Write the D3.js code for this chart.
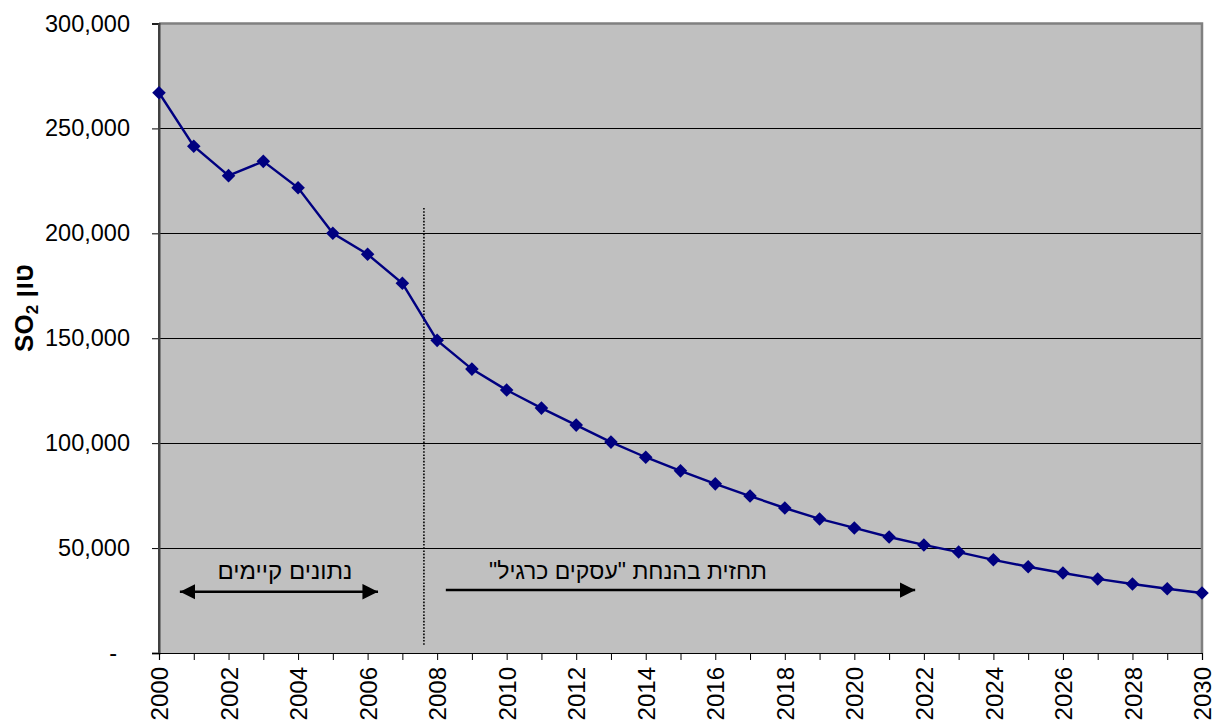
<!DOCTYPE html>
<html>
<head>
<meta charset="utf-8">
<script src="https://cdn.jsdelivr.net/npm/d3@7"></script>
<style>
  body { margin: 0; background: #fff; }
  svg { display: block; }
  text { font-family: "Liberation Sans", Arial, sans-serif; }
</style>
</head>
<body>
<svg id="chart" width="1217" height="724"></svg>
<script>
// ---- data ----
const years = [2000,2001,2002,2003,2004,2005,2006,2007,2008,2009,2010,2011,2012,2013,2014,2015,
  2016,2017,2018,2019,2020,2021,2022,2023,2024,2025,2026,2027,2028,2029,2030];
const so2Tons = [267000,241500,227500,234300,221700,200000,190000,176200,149000,135300,125300,116700,
  108600,100500,93300,86800,80600,74800,69100,63900,59600,55300,51500,48100,44400,41100,38100,35300,
  32900,30600,28600];
const yTicks = [0,50000,100000,150000,200000,250000,300000];
const xLabelYears = [2000,2002,2004,2006,2008,2010,2012,2014,2016,2018,2020,2022,2024,2026,2028,2030];
const yTitleMain = "SO";
const yTitleSub = "2";
const yTitleHeb = " טון";
const existingLabel = "נתונים קיימים";
const forecastLabel = "תחזית בהנחת \"עסקים כרגיל\"";
const existingRange = [2000.6, 2006.3];
const forecastRange = [2008.25, 2021.75];
const dividerYear = 2007.62;

// ---- layout ----
const svg = d3.select("#chart");
const L = 159, R = 1202, T = 23.5, B = 653;
const x = d3.scaleLinear().domain([2000, 2030]).range([L, R]);
const y = d3.scaleLinear().domain([0, 300000]).range([B, T]);

const defs = svg.append("defs");
function arrowMarker(id, orient) {
  defs.append("marker").attr("id", id)
    .attr("viewBox", "0 0 10 10").attr("refX", 10).attr("refY", 5)
    .attr("markerWidth", 6).attr("markerHeight", 6).attr("markerUnits", "strokeWidth")
    .attr("orient", orient)
    .append("path").attr("d", "M0,0 L10,5 L0,10 Z").attr("fill", "#000");
}
arrowMarker("arrEnd", "auto");
arrowMarker("arrStart", "auto-start-reverse");

// plot background
svg.append("rect").attr("x", L).attr("y", T).attr("width", R - L).attr("height", B - T)
  .attr("fill", "#C0C0C0");

// gridlines
svg.append("g").selectAll("line").data(yTicks.filter(d => d > 0 && d < 300000)).join("line")
  .attr("x1", L).attr("x2", R).attr("y1", d => Math.round(y(d)) + 0.5).attr("y2", d => Math.round(y(d)) + 0.5)
  .attr("stroke", "#000").attr("stroke-width", 1);

// top & right border
svg.append("path")
  .attr("d", `M${L},${T} H${R} V${B}`)
  .attr("fill", "none").attr("stroke", "#808080").attr("stroke-width", 2.5);

// y axis
const yAxis = d3.axisLeft(y).tickValues(yTicks).tickSize(7).tickPadding(22)
  .tickFormat(d => d === 0 ? "-" : d3.format(",")(d));
const gy = svg.append("g").attr("transform", `translate(${L},0)`).call(yAxis);
gy.select(".domain").attr("stroke", "#404040").attr("stroke-width", 2);
gy.selectAll(".tick line").attr("stroke", "#000");
gy.selectAll(".tick text").attr("font-size", 23.5).attr("fill", "#000")
  .attr("font-family", "'Liberation Sans', Arial, sans-serif")
  .attr("dx", d => d === 0 ? -13 : 0);

// x axis
const xAxis = d3.axisBottom(x).tickValues(years).tickSize(7).tickPadding(8)
  .tickFormat(d => xLabelYears.includes(d) ? String(d) : "");
const gx = svg.append("g").attr("transform", `translate(0,${B})`).call(xAxis);
gx.select(".domain").attr("stroke", "#000").attr("stroke-width", 1.2);
gx.selectAll(".tick line").attr("stroke", "#000");
gx.selectAll(".tick text").attr("font-size", 24).attr("fill", "#000")
  .attr("font-family", "'Liberation Sans', Arial, sans-serif")
  .attr("transform", "rotate(-90)")
  .attr("text-anchor", "end").attr("x", -14).attr("y", 0).attr("dy", "0.36em");

// redraw left axis line over background edge
svg.append("line").attr("x1", L).attr("x2", L).attr("y1", T).attr("y2", B)
  .attr("stroke", "#404040").attr("stroke-width", 2);

// divider dotted line
svg.append("line").attr("x1", x(dividerYear)).attr("x2", x(dividerYear))
  .attr("y1", 208).attr("y2", 645)
  .attr("stroke", "#000").attr("stroke-width", 1.6).attr("stroke-dasharray", "1.6,1.6");

// series line
const line = d3.line().x((d, i) => x(years[i])).y(d => y(d));
svg.append("path").datum(so2Tons).attr("d", line)
  .attr("fill", "none").attr("stroke", "#000080").attr("stroke-width", 2.4);

// diamond markers
svg.append("g").selectAll("path").data(so2Tons).join("path")
  .attr("d", d3.symbol().type(d3.symbolSquare).size(92))
  .attr("transform", (d, i) => `translate(${x(years[i])},${y(d)}) rotate(45)`)
  .attr("fill", "#000080");

// annotations
const arrY1 = 29200, arrY2 = 30000;
svg.append("line")
  .attr("x1", x(existingRange[0])).attr("x2", x(existingRange[1]))
  .attr("y1", y(arrY1)).attr("y2", y(arrY1))
  .attr("stroke", "#000").attr("stroke-width", 2.6)
  .attr("marker-start", "url(#arrStart)").attr("marker-end", "url(#arrEnd)");
svg.append("line")
  .attr("x1", x(forecastRange[0])).attr("x2", x(forecastRange[1]))
  .attr("y1", y(arrY2)).attr("y2", y(arrY2))
  .attr("stroke", "#000").attr("stroke-width", 2.6)
  .attr("marker-end", "url(#arrEnd)");

svg.append("text").attr("x", 285).attr("y", 579)
  .attr("text-anchor", "middle").attr("font-size", 24).attr("direction", "rtl")
  .attr("unicode-bidi", "embed").attr("fill", "#000")
  .text(existingLabel);
svg.append("text").attr("x", 628).attr("y", 579)
  .attr("text-anchor", "middle").attr("font-size", 23).attr("direction", "rtl")
  .attr("unicode-bidi", "embed").attr("fill", "#000")
  .text(forecastLabel);

// y title
const yt = svg.append("text").attr("transform", "translate(33,308) rotate(-90)")
  .attr("text-anchor", "middle").attr("font-size", 26).attr("font-weight", "bold").attr("fill", "#000");
yt.append("tspan").text(yTitleMain);
yt.append("tspan").attr("font-size", 17).attr("dy", 5).text(yTitleSub);
yt.append("tspan").attr("dy", -5).text(yTitleHeb);
</script>
</body>
</html>
